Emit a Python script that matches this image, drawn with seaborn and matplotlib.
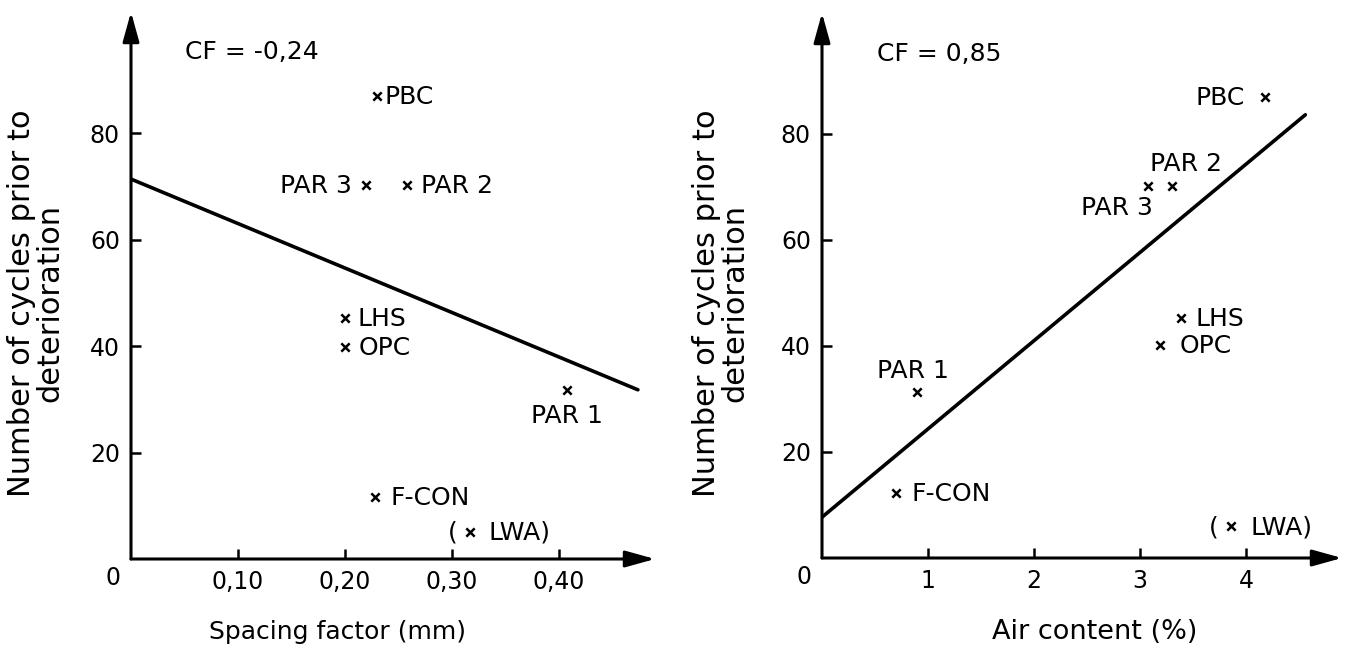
import matplotlib
matplotlib.use("Agg")
import matplotlib.pyplot as plt
import seaborn as sns
import pandas as pd

# ---------------- data ----------------
materials = ["PBC", "PAR 3", "PAR 2", "LHS", "OPC", "PAR 1", "F-CON", "LWA"]

spacing_factor = [0.230, 0.220, 0.258, 0.200, 0.200, 0.408, 0.228, 0.317]
cycles_left = [87.0, 70.3, 70.3, 45.3, 39.8, 31.8, 11.7, 5.1]

air_content = [4.18, 3.08, 3.30, 3.39, 3.19, 0.90, 0.70, 3.86]
cycles_right = [87.0, 70.2, 70.2, 45.3, 40.2, 31.3, 12.3, 6.0]

fit_left_x = [0.0, 0.474]
fit_left_y = [71.4, 31.8]
fit_right_x = [0.0, 4.56]
fit_right_y = [7.7, 83.6]

left_xticks = [0.1, 0.2, 0.3, 0.4]
left_xticklabels = ["0,10", "0,20", "0,30", "0,40"]
right_xticks = [1, 2, 3, 4]
right_xticklabels = ["1", "2", "3", "4"]
yticks = [20, 40, 60, 80]
yticklabels = ["20", "40", "60", "80"]

cf_left = "CF = -0,24"
cf_right = "CF = 0,85"
xlabel_left = "Spacing factor (mm)"
xlabel_right = "Air content (%)"
ylabel = "Number of cycles prior to\ndeterioration"

# ---------------- style ----------------
sns.set_style("white")
plt.rcParams["font.family"] = ["DejaVu Sans"]
plt.rcParams["text.color"] = "black"
plt.rcParams["axes.labelcolor"] = "black"
plt.rcParams["xtick.color"] = "black"
plt.rcParams["ytick.color"] = "black"

# label offsets in pixels (dx, dy, ha)
left_offsets = {
    "PBC": (8, 0, "left"),
    "PAR 3": (-14, 0, "right"),
    "PAR 2": (14, 0, "left"),
    "LHS": (13, 0, "left"),
    "OPC": (14, 0, "left"),
    "PAR 1": (0, -25, "center"),
    "F-CON": (16, 0, "left"),
}
right_offsets = {
    "PBC": (-20, 0, "right"),
    "PAR 3": (4, -21, "right"),
    "PAR 2": (-22, 23, "left"),
    "LHS": (14, 0, "left"),
    "OPC": (20, 0, "left"),
    "PAR 1": (-4, 22, "center"),
    "F-CON": (15, 0, "left"),
}

W, H = 1350, 653
fig = plt.figure(figsize=(W / 100, H / 100), dpi=100)
fig.patch.set_facecolor("white")

ax1 = fig.add_axes([131 / W, (H - 559) / H, 524 / W, 547 / H])
ax2 = fig.add_axes([822 / W, (H - 558) / H, 520 / W, 545 / H])


def draw_panel(ax, xs, ys, fx, fy, xlim, xticks, xticklabels, offsets,
               cf, cf_pos, xlabel, xlabel_x, xlabel_size, ylabel_x, lwa_paren):
    df = pd.DataFrame({"x": xs, "y": ys, "m": materials})
    ax.set_xlim(*xlim)
    ax.set_ylim(0, 102.8)
    ax.set_facecolor("white")
    for sp in ax.spines.values():
        sp.set_visible(False)

    # fit line
    sns.lineplot(x=fx, y=fy, ax=ax, color="black", linewidth=2.6,
                 sort=False, estimator=None)
    # markers
    sns.scatterplot(data=df, x="x", y="y", ax=ax, marker="x", s=36,
                    color="black", linewidth=1.8, zorder=5)

    # point labels
    for _, r in df.iterrows():
        if r["m"] == "LWA":
            ax.annotate("(", (r["x"], r["y"]), xytext=(lwa_paren[0], -1),
                        textcoords="offset pixels", ha="right", va="center",
                        fontsize=18)
            ax.annotate("LWA)", (r["x"], r["y"]), xytext=(lwa_paren[1], -1),
                        textcoords="offset pixels", ha="left", va="center",
                        fontsize=18)
            continue
        dx, dy, ha = offsets[r["m"]]
        ax.annotate(r["m"], (r["x"], r["y"]), xytext=(dx, dy - 1),
                    textcoords="offset pixels", ha=ha, va="center",
                    fontsize=18)

    # axes arrows
    arrow = dict(arrowstyle="-|>,head_length=0.9,head_width=0.25",
                 color="black", lw=2.2, mutation_scale=20,
                 shrinkA=0, shrinkB=0)
    ax.annotate("", xy=(1, 0), xytext=(0, 0), xycoords="axes fraction",
                textcoords="axes fraction", arrowprops=arrow,
                annotation_clip=False)
    ax.annotate("", xy=(0, 1), xytext=(0, 0), xycoords="axes fraction",
                textcoords="axes fraction", arrowprops=arrow,
                annotation_clip=False)

    # ticks
    ax.set_xticks(xticks)
    ax.set_xticklabels(xticklabels)
    ax.set_yticks(yticks)
    ax.set_yticklabels(yticklabels)
    ax.tick_params(axis="both", direction="in", length=7, width=1.8,
                   colors="black", labelsize=17, left=True, bottom=True,
                   top=False, right=False)
    ax.tick_params(axis="x", pad=8)
    ax.tick_params(axis="y", pad=8)
    ax.annotate("0", (0, 0), xytext=(-18, -19), textcoords="offset pixels",
                ha="center", va="center", fontsize=17,
                annotation_clip=False)

    # texts
    ax.text(cf_pos[0], cf_pos[1], cf, transform=ax.transAxes, fontsize=18,
            ha="left", va="center")
    ax.set_xlabel(xlabel, fontsize=xlabel_size, color="black")
    ax.xaxis.set_label_coords(xlabel_x, -0.112)
    ax.set_ylabel(ylabel, fontsize=22, linespacing=0.95, color="black")
    ax.yaxis.set_label_coords(ylabel_x, 0.468)


draw_panel(ax1, spacing_factor, cycles_left, fit_left_x, fit_left_y,
           (0, 0.49), left_xticks, left_xticklabels, left_offsets,
           cf_left, (0.103, 0.927), xlabel_left, 0.395, 18, -0.128,
           (-12, 19))
draw_panel(ax2, air_content, cycles_right, fit_right_x, fit_right_y,
           (0, 4.906), right_xticks, right_xticklabels, right_offsets,
           cf_right, (0.106, 0.925), xlabel_right, 0.525, 19.5, -0.140,
           (-13, 19))

fig.savefig("out.png", dpi=100, facecolor="white")
